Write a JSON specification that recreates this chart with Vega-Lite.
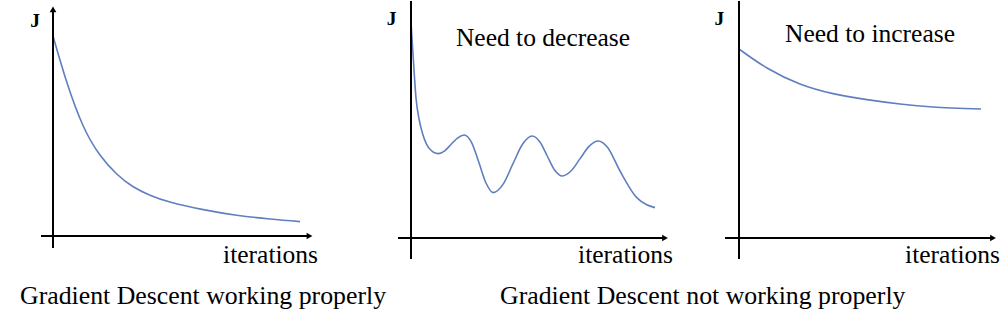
{
  "$schema": "https://vega.github.io/schema/vega-lite/v6.json",
  "padding": 0,
  "background": "white",
  "spacing": 0,
  "bounds": "flush",
  "config": {
    "view": {"stroke": null},
    "font": "'Liberation Serif', 'Times New Roman', serif",
    "title": {"font": "'Liberation Serif', 'Times New Roman', serif", "fontSize": 25.8, "fontWeight": "normal", "color": "black"},
    "text": {"font": "'Liberation Serif', 'Times New Roman', serif", "color": "black"}
  },
  "hconcat": [
    {
      "width": 370,
      "height": 270,
      "title": {"text": "Gradient Descent working properly", "orient": "bottom", "anchor": "start", "dx": 20, "offset": 13},
      "encoding": {
        "x": {"field": "iteration", "type": "quantitative", "scale": {"domain": [-21.2, 126.8], "nice": false, "zero": false}, "axis": null},
        "y": {"field": "J", "type": "quantitative", "scale": {"domain": [-17.5, 117.5], "nice": false, "zero": false}, "axis": null}
      },
      "layer": [
        {
          "data": {"values": [
            {"iteration": 0, "J": 100}, {"iteration": 5.5, "J": 77}, {"iteration": 12.1, "J": 55}, {"iteration": 18.8, "J": 40.5},
            {"iteration": 25.5, "J": 31}, {"iteration": 32.1, "J": 24.6}, {"iteration": 38.8, "J": 20.4}, {"iteration": 46.8, "J": 17.0},
            {"iteration": 60.1, "J": 13.2}, {"iteration": 73.5, "J": 10.4}, {"iteration": 86.8, "J": 8.5}, {"iteration": 98.8, "J": 7.2}
          ]},
          "mark": {"type": "line", "interpolate": "natural", "color": "#5f7fbf", "strokeWidth": 1.6}
        },
        {
          "data": {"values": [
            {"iteration": -4.8, "iteration2": 103, "J": 0, "J2": 0},
            {"iteration": 0, "iteration2": 0, "J": -6, "J2": 112}
          ]},
          "mark": {"type": "rule", "color": "black", "strokeWidth": 2},
          "encoding": {"x2": {"field": "iteration2"}, "y2": {"field": "J2"}}
        },
        {
          "data": {"values": [
            {"iteration": 102.6, "J": 0, "direction": "right"},
            {"iteration": 0, "J": 113.3, "direction": "up"}
          ]},
          "mark": {"type": "point", "filled": true, "color": "black", "opacity": 1, "size": 45},
          "encoding": {"shape": {"field": "direction", "type": "nominal", "scale": {"domain": ["right", "up"], "range": ["triangle-right", "triangle-up"]}, "legend": null}}
        },
        {
          "data": {"values": [{"iteration": -7.2, "J": 107.7, "label": "J"}]},
          "mark": {"type": "text", "fontSize": 19.5, "fontWeight": "bold", "align": "center", "baseline": "middle"},
          "encoding": {"text": {"field": "label"}}
        },
        {
          "data": {"values": [{"iteration": 106, "J": -13.5, "label": "iterations"}]},
          "mark": {"type": "text", "fontSize": 25.5, "align": "right", "baseline": "alphabetic"},
          "encoding": {"text": {"field": "label"}}
        }
      ]
    },
    {
      "spacing": 0,
      "bounds": "flush",
      "title": {"text": "Gradient Descent not working properly", "orient": "bottom", "anchor": "start", "dx": 130, "offset": 13},
      "hconcat": [
        {
          "width": 330,
          "height": 270,
          "encoding": {
            "x": {"field": "iteration", "type": "quantitative", "scale": {"domain": [-16.4, 115.6], "nice": false, "zero": false}, "axis": null},
            "y": {"field": "J", "type": "quantitative", "scale": {"domain": [-16.5, 118.5], "nice": false, "zero": false}, "axis": null}
          },
          "layer": [
            {
              "data": {"values": [
                {"iteration": 0, "J": 107.7}, {"iteration": 0.9, "J": 90}, {"iteration": 2.0, "J": 70}, {"iteration": 3.3, "J": 59},
                {"iteration": 4.8, "J": 51.5}, {"iteration": 7.5, "J": 44.5}, {"iteration": 10.9, "J": 42.2},
                {"iteration": 13.5, "J": 43.6}, {"iteration": 16.1, "J": 46.9}, {"iteration": 18.7, "J": 50.1}, {"iteration": 21.3, "J": 51.5},
                {"iteration": 24.2, "J": 47.8}, {"iteration": 27.1, "J": 38}, {"iteration": 30.0, "J": 27.5}, {"iteration": 32.9, "J": 22.7},
                {"iteration": 36.8, "J": 26.8}, {"iteration": 40.7, "J": 36.9}, {"iteration": 44.6, "J": 46.9}, {"iteration": 48.5, "J": 51},
                {"iteration": 51.5, "J": 48.1}, {"iteration": 54.5, "J": 41}, {"iteration": 57.5, "J": 33.9}, {"iteration": 60.5, "J": 31},
                {"iteration": 64.1, "J": 33.6}, {"iteration": 67.7, "J": 39.8}, {"iteration": 71.3, "J": 45.9}, {"iteration": 74.9, "J": 48.5},
                {"iteration": 78.5, "J": 45.5}, {"iteration": 83.6, "J": 33.5}, {"iteration": 90.3, "J": 20.2}, {"iteration": 94.3, "J": 16.6},
                {"iteration": 97.6, "J": 15.2}
              ]},
              "mark": {"type": "line", "interpolate": "monotone", "color": "#5f7fbf", "strokeWidth": 1.6}
            },
            {
              "data": {"values": [
                {"iteration": -5.2, "iteration2": 101.8, "J": 0, "J2": 0},
                {"iteration": 0, "iteration2": 0, "J": -10.5, "J2": 118.5}
              ]},
              "mark": {"type": "rule", "color": "black", "strokeWidth": 2},
              "encoding": {"x2": {"field": "iteration2"}, "y2": {"field": "J2"}}
            },
            {
              "data": {"values": [{"iteration": 101.6, "J": 0, "direction": "right"}]},
              "mark": {"type": "point", "filled": true, "color": "black", "opacity": 1, "size": 45, "shape": "triangle-right"}
            },
            {
              "data": {"values": [{"iteration": -7.8, "J": 109.3, "label": "J"}]},
              "mark": {"type": "text", "fontSize": 19.5, "fontWeight": "bold", "align": "center", "baseline": "middle"},
              "encoding": {"text": {"field": "label"}}
            },
            {
              "data": {"values": [{"iteration": 104.8, "J": -12.5, "label": "iterations"}]},
              "mark": {"type": "text", "fontSize": 25.5, "align": "right", "baseline": "alphabetic"},
              "encoding": {"text": {"field": "label"}}
            },
            {
              "data": {"values": [{"iteration": 52.8, "J": 100, "label": "Need to decrease"}]},
              "mark": {"type": "text", "fontSize": 25.5, "align": "center", "baseline": "middle"},
              "encoding": {"text": {"field": "label"}}
            }
          ]
        },
        {
          "width": 303,
          "height": 270,
          "encoding": {
            "x": {"field": "iteration", "type": "quantitative", "scale": {"domain": [-15.6, 105.6], "nice": false, "zero": false}, "axis": null},
            "y": {"field": "J", "type": "quantitative", "scale": {"domain": [-16.5, 118.5], "nice": false, "zero": false}, "axis": null}
          },
          "layer": [
            {
              "data": {"values": [
                {"iteration": 0, "J": 94.5}, {"iteration": 11.2, "J": 85}, {"iteration": 24.4, "J": 77}, {"iteration": 37.6, "J": 72.2},
                {"iteration": 51.2, "J": 69.2}, {"iteration": 64.4, "J": 67}, {"iteration": 77.6, "J": 65.5}, {"iteration": 96.8, "J": 64.5}
              ]},
              "mark": {"type": "line", "interpolate": "natural", "color": "#5f7fbf", "strokeWidth": 1.6}
            },
            {
              "data": {"values": [
                {"iteration": -5.6, "iteration2": 101.8, "J": 0, "J2": 0},
                {"iteration": 0, "iteration2": 0, "J": -10.5, "J2": 118.5}
              ]},
              "mark": {"type": "rule", "color": "black", "strokeWidth": 2},
              "encoding": {"x2": {"field": "iteration2"}, "y2": {"field": "J2"}}
            },
            {
              "data": {"values": [{"iteration": 101.6, "J": 0, "direction": "right"}]},
              "mark": {"type": "point", "filled": true, "color": "black", "opacity": 1, "size": 45, "shape": "triangle-right"}
            },
            {
              "data": {"values": [{"iteration": -7.9, "J": 109.3, "label": "J"}]},
              "mark": {"type": "text", "fontSize": 19.5, "fontWeight": "bold", "align": "center", "baseline": "middle"},
              "encoding": {"text": {"field": "label"}}
            },
            {
              "data": {"values": [{"iteration": 104.4, "J": -12.5, "label": "iterations"}]},
              "mark": {"type": "text", "fontSize": 25.5, "align": "right", "baseline": "alphabetic"},
              "encoding": {"text": {"field": "label"}}
            },
            {
              "data": {"values": [{"iteration": 52.4, "J": 102, "label": "Need to increase"}]},
              "mark": {"type": "text", "fontSize": 25.5, "align": "center", "baseline": "middle"},
              "encoding": {"text": {"field": "label"}}
            }
          ]
        }
      ]
    }
  ]
}
